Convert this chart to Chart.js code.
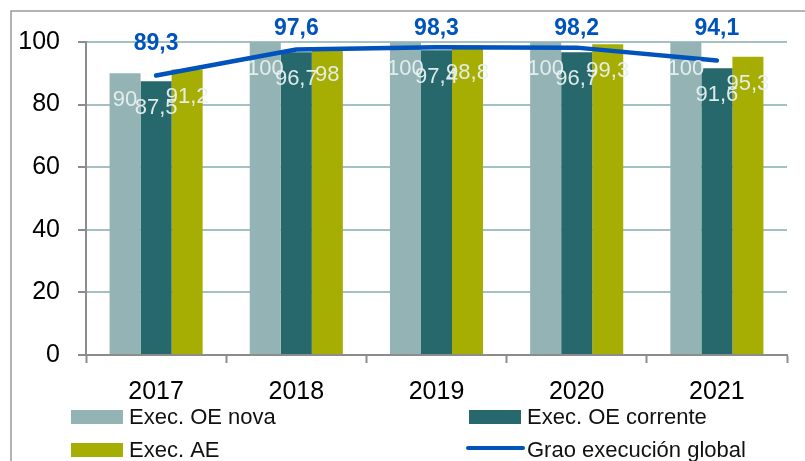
<!DOCTYPE html>
<html><head><meta charset="utf-8">
<script src="https://cdn.jsdelivr.net/npm/chart.js@4.4.1/dist/chart.umd.min.js"></script>
<style>html,body{margin:0;padding:0;background:#fff}#wrap{width:805px;height:461px;position:relative}canvas{display:block}</style>
</head><body><div id="wrap"><canvas id="c" width="805" height="461"></canvas></div>
<script>
const categories = ['2017', '2018', '2019', '2020', '2021'];
const execOENova = [90, 100, 100, 100, 100];
const execOECorrente = [87.5, 96.7, 97.4, 96.7, 91.6];
const execAE = [91.2, 98, 98.8, 99.3, 95.3];
const graoGlobal = [89.3, 97.6, 98.3, 98.2, 94.1];
const yTicks = [0, 20, 40, 60, 80, 100];
const seriesNames = ['Exec. OE nova', 'Exec. OE corrente', 'Exec. AE', 'Grao execución global'];

const COLORS = ['#93b3b5', '#27686c', '#a6ae04', '#0052bd'];
const FONT = "'Liberation Sans', Arial, sans-serif";
Chart.defaults.font.family = FONT;

const fmt = v => String(v).replace('.', ',');

const custom = {
  id: 'custom',
  beforeDraw(chart) {
    const ctx = chart.ctx;
    ctx.save();
    ctx.strokeStyle = '#9a9a9a';
    ctx.lineWidth = 1.5;
    ctx.beginPath();
    ctx.moveTo(11, 470);
    ctx.lineTo(11, 11);
    ctx.lineTo(810, 11);
    ctx.stroke();
    ctx.restore();
  },
  afterDatasetsDraw(chart) {
    const ctx = chart.ctx;
    ctx.save();
    ctx.textAlign = 'center';
    ctx.textBaseline = 'middle';
    ctx.font = "22px " + FONT;
    ctx.fillStyle = 'rgba(232,240,240,0.95)';
    chart.data.datasets.forEach((ds, di) => {
      if (ds.type === 'line') return;
      const meta = chart.getDatasetMeta(di);
      meta.data.forEach((el, i) => {
        ctx.fillText(fmt(ds.data[i]), el.x, el.y + 27);
      });
    });
    ctx.font = "bold 23px " + FONT;
    ctx.fillStyle = COLORS[3];
    chart.data.datasets.forEach((ds, di) => {
      if (ds.type !== 'line') return;
      const meta = chart.getDatasetMeta(di);
      meta.data.forEach((el, i) => {
        const y = Math.max(el.y - 32, chart.chartArea.top - 13);
        ctx.fillText(fmt(ds.data[i]), el.x, y);
      });
    });
    ctx.restore();
  },
  afterDraw(chart) {
    const ctx = chart.ctx;
    const pos = [[71, 410], [469, 410], [71, 443], [469, 443]];
    ctx.save();
    ctx.font = "22px " + FONT;
    ctx.textAlign = 'left';
    ctx.textBaseline = 'alphabetic';
    chart.data.datasets.forEach((ds, di) => {
      const [x, y] = pos[di];
      if (ds.type === 'line') {
        ctx.strokeStyle = ds.borderColor;
        ctx.lineWidth = 4;
        ctx.lineCap = 'round';
        ctx.beginPath();
        ctx.moveTo(x - 1, y + 5);
        ctx.lineTo(x + 54, y + 5);
        ctx.stroke();
      } else {
        ctx.fillStyle = ds.backgroundColor;
        ctx.fillRect(x, y, 52, 14);
      }
      ctx.fillStyle = '#111';
      ctx.fillText(ds.label, x + 58, y + 14);
    });
    ctx.restore();
  }
};

new Chart(document.getElementById('c'), {
  data: {
    labels: categories,
    datasets: [
      { type: 'bar', label: seriesNames[0], data: execOENova, backgroundColor: COLORS[0], order: 2 },
      { type: 'bar', label: seriesNames[1], data: execOECorrente, backgroundColor: COLORS[1], order: 2 },
      { type: 'bar', label: seriesNames[2], data: execAE, backgroundColor: COLORS[2], order: 2 },
      { type: 'line', label: seriesNames[3], data: graoGlobal, borderColor: COLORS[3], backgroundColor: COLORS[3],
        borderWidth: 4.5, pointRadius: 0, borderCapStyle: 'round', borderJoinStyle: 'round', tension: 0, order: 0 }
    ]
  },
  options: {
    responsive: false,
    animation: false,
    devicePixelRatio: 1,
    layout: { padding: { left: 0, right: 18, top: 42, bottom: 0 } },
    plugins: { legend: { display: false }, tooltip: { enabled: false } },
    datasets: { bar: { categoryPercentage: 0.664, barPercentage: 1 } },
    scales: {
      x: {
        offset: true,
        grid: { display: true, drawOnChartArea: false, offset: true, tickLength: 8, tickColor: '#8c8c8c', tickWidth: 2 },
        border: { display: true, color: '#8c8c8c', width: 2 },
        ticks: { color: '#000', font: { size: 25 }, padding: 14, maxRotation: 0 },
        afterFit(s) { s.height = 106; }
      },
      y: {
        min: 0, max: 100,
        afterBuildTicks(s) { s.ticks = yTicks.map(v => ({ value: v })); },
        grid: { color: '#a3c1c3', lineWidth: 2, tickLength: 8, tickColor: '#8c8c8c', tickWidth: 2 },
        border: { display: true, color: '#8c8c8c', width: 2 },
        ticks: { color: '#000', font: { size: 25 }, padding: 18 },
        afterFit(s) { s.width = 86; }
      }
    }
  },
  plugins: [custom]
});
</script>
</body></html>
